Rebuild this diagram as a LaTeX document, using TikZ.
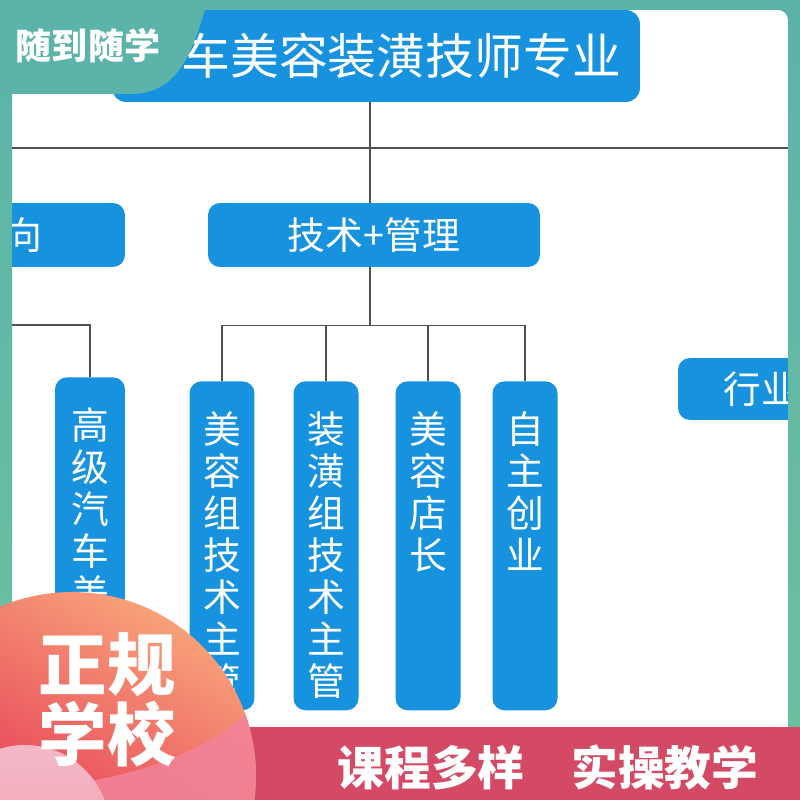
\documentclass[tikz,border=0pt]{standalone}
\usepackage{fontspec}
\newfontfamily\cjk{Noto Sans CJK SC}
\usetikzlibrary{positioning}
\definecolor{boxblue}{RGB}{22,146,222}
\definecolor{wiregrey}{RGB}{80,80,80}
\definecolor{frameteal}{RGB}{91,179,170}
\definecolor{framegreen}{RGB}{108,191,158}
\definecolor{stripred}{RGB}{212,74,100}
\definecolor{peach}{RGB}{249,168,124}
\definecolor{coralred}{RGB}{230,62,86}
\definecolor{bandpink}{RGB}{242,130,152}
\definecolor{softpink}{RGB}{240,168,186}
\newcommand{\vtxt}[1]{\begin{minipage}[t][5.38cm][t]{1.2em}\centering #1\end{minipage}}

\begin{document}
\begin{tikzpicture}[x=0.02cm,y=-0.02cm,
    box/.style={fill=boxblue,rounded corners=0.24cm,text=white,inner sep=0pt,font=\cjk\fontsize{21.5}{23.9}\selectfont},
    hbox/.style={box,minimum height=1.28cm},
    vbox/.style={box,anchor=north,minimum width=1.3cm,inner ysep=0.6cm},
    wire/.style={draw=wiregrey,line width=0.8pt}]
  \useasboundingbox (0,0) rectangle (800,800);
  \fill[white] (0,0) rectangle (800,800);
  \node[hbox,minimum width=10.56cm,minimum height=1.84cm,text width=9.8cm,align=right,rounded corners=0.28cm,
    font=\cjk\fontsize{27.8}{30}\selectfont] (title) at (376,56) {车美容装潢技师专业};
  \node[hbox,minimum width=6.64cm] (tech) at (374,235) {技术+管理};
  \node[hbox,minimum width=4.08cm] (dir) at (23,235) {向};
  \node[hbox,minimum width=3.32cm,minimum height=1.24cm] (trade) at (761,389) {行业};
  \node[vbox,minimum width=1.4cm] (senior) at (90,377) {\vtxt{高\\级\\汽\\车\\美}};
  \foreach \n/\x/\t in {j1/222/{美\\容\\组\\技\\术\\主\\管},j2/326/{装\\潢\\组\\技\\术\\主\\管},
      j3/428/{美\\容\\店\\长},j4/525/{自\\主\\创\\业}}
    \node[vbox] (\n) at (\x,381) {\vtxt{\t}};
  \coordinate (stem) at (370,148);
  \coordinate (railL) at (12,148);
  \coordinate (railR) at (788,148);
  \coordinate (leftbus) at (12,325);
  \draw[wire] (railL) -- (railR);
  \draw[wire] (title.south -| stem) -- (tech.north -| stem);
  \draw[wire] (tech.south -| stem) -- ++(0,58) coordinate (hub);
  \draw[wire] (j1.north |- hub) -- (j4.north |- hub);
  \foreach \n in {j1,j2,j3,j4}
    \draw[wire] (\n.north |- hub) -- (\n.north);
  \draw[wire] (leftbus) -| (senior.north);
  \shade[top color=frameteal,bottom color=framegreen,even odd rule] (0,0) rectangle (800,740)
    [rounded corners=0.2cm] (12,740) -- (12,10) -- (788,10) -- (788,740) -- cycle;
  \fill[frameteal] (0,0) -- (212,0) -- (205,10) .. controls (192,50) and (180,94) .. (130,94) -- (0,94) -- cycle;
  \node[font=\cjk\bfseries\fontsize{20.5}{22}\selectfont,text=white] (motto) at (88,46) {随到随学};
  \fill[stripred] (0,727) rectangle (800,800);
  \node[font=\cjk\bfseries\fontsize{26.6}{28}\selectfont,text=white] (slogan) at (548,767) {课程多样　实操教学};
  \begin{scope}
    \clip (72,776) circle (3.68cm);
    \shade[top color=peach,bottom color=coralred,shading angle=-30] (-112,592) rectangle (256,800);
    \fill[bandpink,opacity=0.9] (262,700) .. controls (200,760) and (130,778) .. (20,792) -- (20,980) -- (262,980) -- cycle;
  \end{scope}
  \shade[top color=softpink!80!white,bottom color=softpink!90!red] (25,830) circle (1.7cm);
  \node[font=\cjk\bfseries\fontsize{39}{39.5}\selectfont,text=white,align=center] (school) at (107,700) {正规\\学校};
\end{tikzpicture}
\end{document}
